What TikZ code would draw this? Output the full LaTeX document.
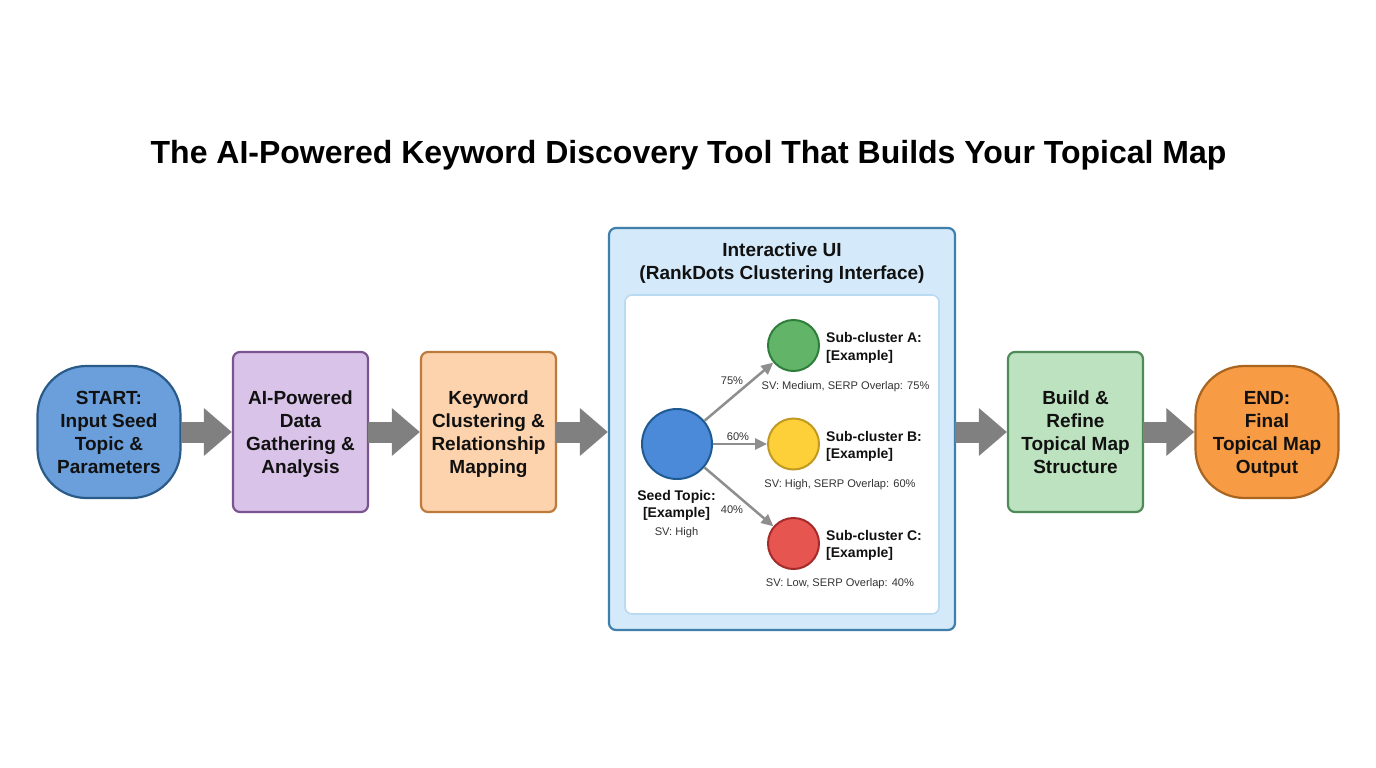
\documentclass[tikz,border=0pt]{standalone}
\usepackage{fontspec}
\setmainfont{Liberation Sans}
\usetikzlibrary{arrows.meta}
\definecolor{stBlue}{HTML}{6A9FDC}\definecolor{stBlueD}{HTML}{2A5B88}
\definecolor{aiP}{HTML}{DAC3E8}\definecolor{aiPD}{HTML}{7A5490}
\definecolor{kwO}{HTML}{FDD3AE}\definecolor{kwOD}{HTML}{BE7A3A}
\definecolor{brG}{HTML}{BCE2BF}\definecolor{brGD}{HTML}{4F8A58}
\definecolor{enO}{HTML}{F89B45}\definecolor{enOD}{HTML}{A9651F}
\definecolor{uiB}{HTML}{D4E9F9}\definecolor{uiBD}{HTML}{3F7FAE}\definecolor{uiIn}{HTML}{B9DAF0}
\definecolor{cSeed}{HTML}{4A8AD8}\definecolor{cSeedD}{HTML}{1F5A92}
\definecolor{cA}{HTML}{62B568}\definecolor{cAD}{HTML}{2F7D3B}
\definecolor{cB}{HTML}{FDD03A}\definecolor{cBD}{HTML}{C29A22}
\definecolor{cC}{HTML}{E65550}\definecolor{cCD}{HTML}{A52A2A}
\definecolor{arrG}{HTML}{808080}\definecolor{thinG}{HTML}{8E8E8E}\definecolor{txtD}{HTML}{111111}\definecolor{txtS}{HTML}{333333}
\newcommand\nodepth[1]{\raisebox{0pt}[\height][0pt]{#1}}
\tikzset{
 x=1pt,y=-1pt,
 flowbox/.style={draw,line width=2.2pt,rounded corners=7pt,align=center,inner sep=0pt,
   font=\fontsize{19}{23}\selectfont\bfseries,text=txtD,minimum width=135pt,minimum height=160pt},
 termbox/.style={flowbox,rounded corners=49pt,minimum width=143pt,minimum height=132pt},
 bigarrow/.style={draw=arrG,line width=21pt,-{Triangle[length=28pt,width=46pt]},shorten <=-1pt},
 thinarrow/.style={draw=thinG,line width=2.5pt,-{Triangle[length=12pt,width=11pt]}},
 dot/.style={circle,draw,line width=2pt,inner sep=0pt},
 sublabel/.style={align=left,anchor=west,inner sep=0pt,font=\fontsize{14}{17.5}\selectfont\bfseries,text=txtD},
 small/.style={inner sep=0pt,font=\fontsize{11.1}{14}\selectfont,text=txtS},
}
\begin{document}
\begin{tikzpicture}
\useasboundingbox (0,0) rectangle (1376,768);
\fill[white] (0,0) rectangle (1376,768);
\node[inner sep=0pt,font=\fontsize{32}{38}\selectfont\bfseries,text=black] (title) at (688.5,155) {The AI-Powered Keyword Discovery Tool That Builds Your Topical Map};
\node[termbox,fill=stBlue,draw=stBlueD] (start) at (109,432) {START:\\Input Seed\\Topic \&\\Parameters};
\node[flowbox,fill=aiP,draw=aiPD] (ai) at (300.5,432) {AI-Powered\\Data\\Gathering \&\\\nodepth{Analysis}};
\node[flowbox,fill=kwO,draw=kwOD] (kw) at (488.5,432) {Keyword\\Clustering \&\\Relationship\\\nodepth{Mapping}};
\node[draw=uiBD,fill=uiB,line width=2.2pt,rounded corners=7pt,minimum width=346pt,minimum height=402pt,inner sep=0pt] (ui) at (782,429) {};
\node[inner sep=0pt,align=center,font=\fontsize{19}{23}\selectfont\bfseries,text=txtD] (uit) at (782,263) {Interactive UI\\(RankDots Clustering Interface)};
\node[draw=uiIn,fill=white,line width=1.6pt,rounded corners=7pt,minimum width=314pt,minimum height=319pt,inner sep=0pt] (pane) at (782,454.5) {};
\node[flowbox,fill=brG,draw=brGD] (br) at (1075.5,432) {Build \&\\Refine\\Topical Map\\Structure};
\node[termbox,fill=enO,draw=enOD] (en) at (1267,432) {END:\\Final\\Topical Map\\\nodepth{Output}};
\draw[bigarrow] (start.east) -- (ai.west);
\draw[bigarrow] (ai.east) -- (kw.west);
\draw[bigarrow] (kw.east) -- (kw.east -| ui.west);
\draw[bigarrow] (br.west -| ui.east) -- (br.west);
\draw[bigarrow] (br.east) -- (en.west);
\node[dot,fill=cSeed,draw=cSeedD,minimum size=70pt] (seed) at (677,444) {};
\node[dot,fill=cA,draw=cAD,minimum size=51pt] (a) at (793.5,345.5) {};
\node[dot,fill=cB,draw=cBD,minimum size=51pt] (b) at (793.5,444) {};
\node[dot,fill=cC,draw=cCD,minimum size=51pt] (c) at (793.5,543.5) {};
\draw[thinarrow] (seed) -- (a);
\draw[thinarrow] (seed) -- (b);
\draw[thinarrow] (seed) -- (c);
\node[small] (pa) at (732,381) {75\%};
\node[small] (pb) at (738,437) {60\%};
\node[small] (pc) at (732,510) {40\%};
\node[inner sep=0pt,align=center,font=\fontsize{14}{17.5}\selectfont\bfseries,text=txtD] (st) at (676.5,505.5) {Seed Topic:\\{[Example]}};
\node[small] (sv) at (676.5,533) {SV: High};
\node[sublabel] (la) at (826,348) {Sub-cluster A:\\{[Example]}};
\node[sublabel] (lb) at (826,446.5) {Sub-cluster B:\\{[Example]}};
\node[sublabel] (lc) at (826,545.5) {Sub-cluster C:\\{[Example]}};
\node[small] (sa) at (845.5,386.5) {SV: Medium, SERP Overlap: 75\%};
\node[small] (sb) at (840,485) {SV: High, SERP Overlap: 60\%};
\node[small] (sc) at (840,583.5) {SV: Low, SERP Overlap: 40\%};
\end{tikzpicture}
\end{document}
